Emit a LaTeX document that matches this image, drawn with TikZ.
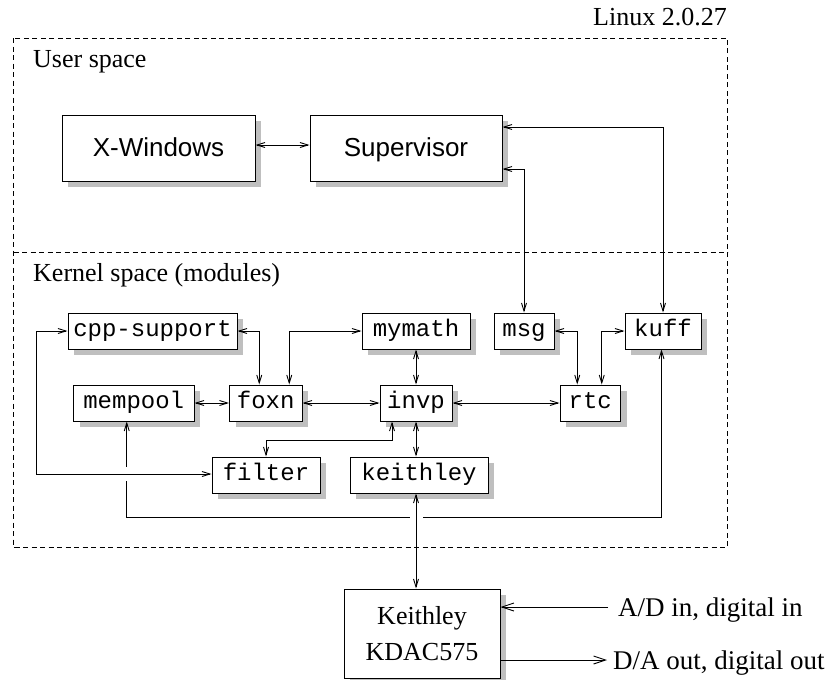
\documentclass[tikz,border=0pt]{standalone}
\usepackage{fontspec}
\setmainfont{Liberation Serif}
\newfontfamily\sansf{Liberation Sans}
\newfontfamily\monof{Liberation Mono}
\usetikzlibrary{arrows.meta,shadows}
\tikzset{
  box/.style={draw, line width=1pt, fill=white, inner sep=0pt,
    drop shadow={shadow xshift=6pt, shadow yshift=-6pt, fill=black!25, opacity=1}},
  bigbox/.style={box, font=\sansf\fontsize{26}{30}\selectfont, text height=20pt, text depth=2.6pt, minimum height=66pt},
  modbox/.style={box, font=\monof\fontsize{24}{28}\selectfont, text height=13pt, text depth=3pt, minimum height=36pt},
  conn/.style={line width=0.9pt, >={Straight Barb[length=8pt,width=5pt]}, <->},
  ioarrow/.style={line width=0.9pt, >={Straight Barb[length=12pt,width=8pt]}, ->},
  region/.style={draw, line width=0.8pt, dash pattern=on 5pt off 3.5pt},
  lab/.style={font=\fontsize{26}{30}\selectfont, inner sep=0pt},
  iolab/.style={font=\fontsize{27}{30}\selectfont, inner sep=0pt},
}
\begin{document}
\begin{tikzpicture}[x=1pt,y=-1pt]
\useasboundingbox (0,0) rectangle (830,680);
% regions
\draw[region] (13.5,38) rectangle (727.5,547);
\draw[region] (13.5,252) -- (727.5,252);
\node[lab, anchor=base east] (linux) at (727,25) {Linux 2.0.27};
\node[lab, anchor=base west] (user) at (33,67) {User space};
\node[lab, anchor=base west] (kernel) at (33,281) {Kernel space (modules)};
% boxes
\node[bigbox, minimum width=193pt] (xwin) at (158.5,148) {X-Windows};
\node[bigbox, minimum width=192pt] (sup) at (406,148) {Supervisor};
\node[modbox, minimum width=169pt] (cpp) at (152.5,331) {cpp-support};
\node[modbox, minimum width=108pt] (mymath) at (416,331) {mymath};
\node[modbox, minimum width=60pt] (msg) at (524,331) {msg};
\node[modbox, minimum width=76pt] (kuff) at (663,331) {kuff};
\node[modbox, minimum width=120.5pt] (mempool) at (133.75,403) {mempool};
\node[modbox, minimum width=72.5pt] (foxn) at (265.75,403) {foxn};
\node[modbox, minimum width=72pt] (invp) at (416,403) {invp};
\node[modbox, minimum width=60.5pt] (rtc) at (590.25,403) {rtc};
\node[modbox, minimum width=108pt] (filter) at (266,475) {filter};
\node[modbox, minimum width=138pt] (keithley) at (419,475) {keithley};
\node[box, font=\fontsize{26}{35.7}\selectfont, align=center, minimum width=156pt, minimum height=89pt] (kdac) at (422,633.5) {Keithley\\KDAC575};
% connectors
\draw[conn] ([yshift=3pt]xwin.east) -- ([yshift=3pt]sup.west);
\draw[conn] (sup.east |- 0,169) -| (msg.north);
\draw[conn] (sup.east |- 0,127) -| (kuff.north);
\draw[conn] (cpp.east) -| ([xshift=-6.5pt]foxn.north);
\draw[conn] ([xshift=23.5pt]foxn.north) |- (mymath.west);
\draw[conn] (mymath.south) -- (invp.north);
\draw[conn] (msg.east) -| ([xshift=-13pt]rtc.north);
\draw[conn] (kuff.west) -| ([xshift=11.5pt]rtc.north);
\draw[conn] (mempool.east) -- (foxn.west);
\draw[conn] (foxn.east) -- (invp.west);
\draw[conn] (invp.east) -- (rtc.west);
\draw[conn] ([xshift=-24pt]invp.south) -- ++(0,19) -| (filter.north);
\draw[conn] (invp.south) -- (invp.south |- keithley.north);
\draw[conn] ([xshift=-7pt]mempool.south) -- ++(0,96) -| ([xshift=-1.5pt]kuff.south);
\fill[white] (121,467) rectangle (133,481);
\fill[white] (409.5,511) rectangle (422.5,523);
\draw[conn] (cpp.west) -- ++(-31,0) |- ([yshift=1pt]filter.west);
\draw[conn] (keithley.south -| invp.south) -- (kdac.north -| invp.south);
% I/O
\coordinate (adin) at (608,607);
\coordinate (daout) at (607,660);
\draw[ioarrow] (adin) -- (kdac.east |- adin);
\draw[ioarrow] (kdac.east |- daout) -- (daout);
\node[iolab, anchor=base west] (adtext) at (618,616) {A/D in, digital in};
\node[iolab, anchor=base west] (datext) at (613,669) {D/A out, digital out};
\end{tikzpicture}
\end{document}
